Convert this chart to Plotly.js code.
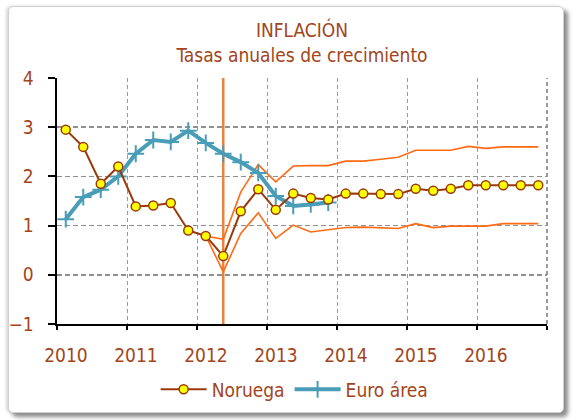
<!DOCTYPE html>
<html>
<head>
<meta charset="utf-8">
<script src="https://cdn.plot.ly/plotly-3.0.1.min.js"></script>
<style>
  html, body { margin: 0; padding: 0; background: #ffffff; }
  #frame {
    position: absolute; left: 8px; top: 6px; width: 554px; height: 405px;
    border: 1px solid #d0d0d0; border-radius: 5px; background: #ffffff;
    box-shadow: 4px 4px 4px #8a8a8a, -2px 0 3px #d8d8d8;
  }
  #chart { position: absolute; left: 0; top: 0; width: 573px; height: 420px; }
</style>
</head>
<body>
<div id="frame"></div>
<div id="chart"></div>
<script>
// Quarter labels (2010 T1 .. 2016 T4)
const quarters = [
  "2010T1","2010T2","2010T3","2010T4",
  "2011T1","2011T2","2011T3","2011T4",
  "2012T1","2012T2","2012T3","2012T4",
  "2013T1","2013T2","2013T3","2013T4",
  "2014T1","2014T2","2014T3","2014T4",
  "2015T1","2015T2","2015T3","2015T4",
  "2016T1","2016T2","2016T3","2016T4"
];
// Noruega: annual inflation (%)
const noruega = [2.95, 2.60, 1.85, 2.20, 1.39, 1.41, 1.46, 0.90,
                 0.79, 0.38, 1.29, 1.74, 1.32, 1.65, 1.56, 1.53,
                 1.65, 1.65, 1.64, 1.64, 1.75, 1.71, 1.75, 1.82,
                 1.82, 1.82, 1.82, 1.82];
// Euro área: annual inflation (%), 2010T1 .. 2013T4
const euroArea = [1.13, 1.58, 1.73, 2.00, 2.46, 2.74, 2.70, 2.93,
                  2.68, 2.46, 2.29, 2.07, 1.60, 1.40, 1.43, 1.47];
// Forecast band (upper / lower), from 2012T1
const bandQuarters = quarters.slice(8);
const upperBand = [0.79, 0.72, 1.68, 2.24, 1.89, 2.21, 2.22, 2.22,
                   2.31, 2.31, 2.35, 2.39, 2.53, 2.53, 2.53, 2.61,
                   2.57, 2.60, 2.60, 2.60];
const lowerBand = [0.79, 0.06, 0.84, 1.26, 0.74, 1.01, 0.87, 0.91,
                   0.96, 0.97, 0.96, 0.94, 1.04, 0.96, 0.99, 0.99,
                   0.99, 1.04, 1.04, 1.04];
const forecastStart = "2012T2";
const yearTicks = [2010, 2011, 2012, 2013, 2014, 2015, 2016, 2017];
const yearLabels = ["2010","2011","2012","2013","2014","2015","2016",""];

// map quarter label to a position on the year axis (middle of quarter)
function qpos(label) {
  const y = parseInt(label.slice(0, 4), 10);
  const q = parseInt(label.slice(5), 10);
  return y + (q - 0.5) / 4;
}
const xAll = quarters.map(qpos);
const xEuro = quarters.slice(0, euroArea.length).map(qpos);
const xBand = bandQuarters.map(qpos);

const FONT = "'DejaVu Sans Condensed', 'DejaVu Sans', sans-serif";
const TXT = "#A2451B";

const traces = [
  { x: xBand, y: upperBand, type: "scatter", mode: "lines", showlegend: false,
    line: { color: "#FF6A13", width: 1.6 }, hoverinfo: "skip" },
  { x: xBand, y: lowerBand, type: "scatter", mode: "lines", showlegend: false,
    line: { color: "#FF6A13", width: 1.6 }, hoverinfo: "skip" },
  { x: xEuro, y: euroArea, type: "scatter", mode: "lines+markers", name: "Euro área",
    line: { color: "#4A9DB6", width: 4 },
    marker: { symbol: "cross-thin-open", size: 12, line: { color: "#4A9DB6", width: 2 } } },
  { x: xAll, y: noruega, type: "scatter", mode: "lines+markers", name: "Noruega",
    line: { color: "#9A3A0C", width: 2 },
    marker: { symbol: "circle", size: 9, color: "#FFFF00", line: { color: "#9A3A0C", width: 1.5 } } }
];

const layout = {
  width: 573, height: 420,
  margin: { l: 57, r: 26, t: 78, b: 94 },
  paper_bgcolor: "rgba(0,0,0,0)",
  plot_bgcolor: "#ffffff",
  font: { family: FONT, color: TXT, size: 19 },
  title: {
    text: "INFLACIÓN<br>Tasas anuales de crecimiento",
    font: { family: FONT, color: TXT, size: 19 },
    x: 0.5, xref: "paper", xanchor: "center",
    y: 1 - 37 / 420, yref: "container", yanchor: "top"
  },
  xaxis: {
    range: [2010, 2017], tickvals: yearTicks, ticktext: yearLabels,
    showline: true, linecolor: "#000000", linewidth: 2,
    ticks: "outside", ticklen: 4, tickwidth: 1.5, tickcolor: "#000000",
    ticklabelstandoff: 9, ticklabelshift: 9,
    showgrid: true, gridcolor: "#9a9a9a", gridwidth: 1, griddash: "4px,3px",
    zeroline: false, tickfont: { family: FONT, color: TXT, size: 19 }
  },
  yaxis: {
    range: [-1, 4], tickvals: [-1, 0, 1, 2, 3, 4],
    showline: true, linecolor: "#000000", linewidth: 2.5,
    ticks: "outside", ticklen: 7, tickwidth: 2, tickcolor: "#000000",
    ticklabelstandoff: 10,
    showgrid: true, gridcolor: "#909090", gridwidth: 1.5, griddash: "5px,3px",
    zeroline: false, tickfont: { family: FONT, color: TXT, size: 19 }
  },
  shapes: [
    { type: "line", xref: "x", yref: "y", x0: qpos(forecastStart), x1: qpos(forecastStart),
      y0: -1, y1: 4, line: { color: "#E8823E", width: 2.5 }, layer: "below" },
    { type: "line", xref: "paper", yref: "paper", x0: 1, x1: 1, y0: 0, y1: 1,
      line: { color: "#9a9a9a", width: 2, dash: "4px,3px" }, layer: "below" }
  ],
  legend: {
    orientation: "h", x: 0.485, xanchor: "center", y: -0.266, yanchor: "middle",
    traceorder: "reversed", font: { family: FONT, color: TXT, size: 19 },
    itemwidth: 46, bgcolor: "rgba(0,0,0,0)"
  },
  showlegend: true
};

Plotly.newPlot("chart", traces, layout, { displayModeBar: false, staticPlot: true });
</script>
</body>
</html>
